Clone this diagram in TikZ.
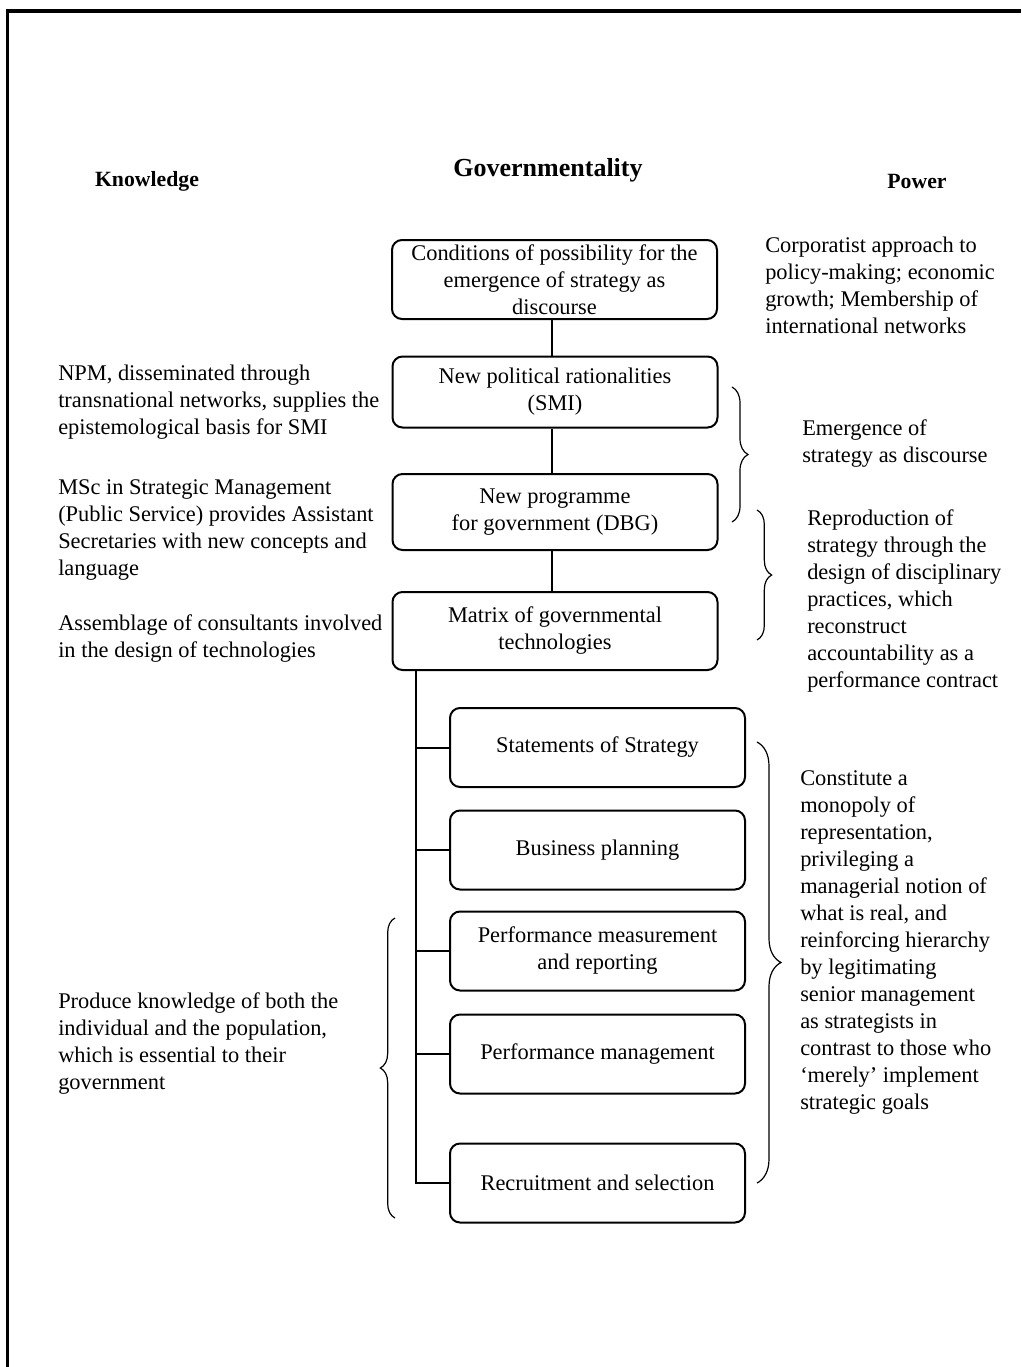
\documentclass[tikz,border=0pt]{standalone}
\usepackage{fontspec}
\setmainfont{Liberation Serif}
\usetikzlibrary{decorations.pathreplacing}
\begin{document}
\begin{tikzpicture}[x=0.75pt,y=-0.75pt,
  every node/.style={font=\fontsize{16.8}{20.25}\selectfont, inner sep=0pt},
  head/.style={font=\fontsize{16.3}{19}\selectfont\bfseries},
  mainbox/.style={draw, line width=1.5pt, rounded corners=7.5pt, align=center,
    minimum width=243.75pt},
  subbox/.style={draw, line width=1.5pt, rounded corners=7.5pt, align=center,
    minimum width=221.25pt, minimum height=59.25pt},
  note/.style={anchor=north west, align=left},
  link/.style={line width=1.5pt},
  bracket/.style={line width=0.9pt, decorate, decoration={brace, amplitude=#1}},
]
\useasboundingbox (0,0) rectangle (1021,1367);

% outer frame (top and left edges)
\draw[line width=2.6pt] (7.5,1367) -- (7.5,11) -- (1021,11);

% column headings
\node[head] (know) at (147,181) {Knowledge};
\node[font=\fontsize{19.5}{23}\selectfont\bfseries] (gov) at (548,170) {Governmentality};
\node[head] (pow) at (917,181) {Power};

% central chain
\node[mainbox, minimum height=59.25pt] (cond) at (554.5,279.5)
  {Conditions of possibility for the\\emergence of strategy as\\discourse};
\node[mainbox, minimum height=53.25pt] (rat) at (555,392)
  {New political rationalities\\(SMI)};
\node[mainbox, minimum height=57pt] (prog) at (555,512)
  {New programme\\for government (DBG)};
\node[mainbox, minimum height=58.5pt] (mat) at (555,631)
  {Matrix of governmental\\technologies};

\coordinate (vx) at (552,0);
\draw[link] (cond.south -| vx) -- (rat.north -| vx);
\draw[link] (rat.south -| vx) -- (prog.north -| vx);
\draw[link] (prog.south -| vx) -- (mat.north -| vx);

% technologies
\node[subbox] (sos) at (597.5,747.5) {Statements of Strategy};
\node[subbox] (bp) at (597.5,850) {Business planning};
\node[subbox] (pmr) at (597.5,951) {Performance measurement\\and reporting};
\node[subbox] (pm) at (597.5,1054) {Performance management};
\node[subbox] (rs) at (597.5,1183) {Recruitment and selection};

\coordinate (sp) at (416,0);
\draw[link] (mat.south -| sp) -- (sp |- rs.west) -- (rs.west);
\draw[link] (sp |- sos.west) -- (sos.west);
\draw[link] (sp |- bp.west) -- (bp.west);
\draw[link] (sp |- pmr.west) -- (pmr.west);
\draw[link] (sp |- pm.west) -- (pm.west);

% knowledge side
\node[note] (k1) at (58,365)
  {NPM, disseminated through\\transnational networks, supplies the\\epistemological basis for SMI};
\node[note] (k2) at (58,479)
  {MSc in Strategic Management\\(Public Service) provides Assistant\\Secretaries with new concepts and\\language};
\node[note] (k3) at (58,614)
  {Assemblage of consultants involved\\in the design of technologies};
\node[note] (k4) at (58,992)
  {Produce knowledge of both the\\individual and the population,\\which is essential to their\\government};

% power side
\node[note] (p1) at (765,237)
  {Corporatist approach to\\policy-making; economic\\growth; Membership of\\international networks};
\node[note] (p2) at (802,419)
  {Emergence of\\strategy as discourse};
\node[note] (p3) at (807,509)
  {Reproduction of\\strategy through the\\design of disciplinary\\practices, which\\reconstruct\\accountability as a\\performance contract};
\node[note] (p4) at (800,770)
  {Constitute a\\monopoly of\\representation,\\privileging a\\managerial notion of\\what is real, and\\reinforcing hierarchy\\by legitimating\\senior management\\as strategists in\\contrast to those who\\`merely' implement\\strategic goals};

% braces
\coordinate (b1a) at (732,387);  \coordinate (b1b) at (732,522);
\coordinate (b2a) at (757,510);  \coordinate (b2b) at (757,640);
\coordinate (b3a) at (757,742);  \coordinate (b3b) at (757,1183);
\coordinate (b4a) at (395,1218); \coordinate (b4b) at (395,918);
\draw[bracket=12pt] (b1a) -- (b1b);
\draw[bracket=11pt] (b2a) -- (b2b);
\draw[bracket=18pt] (b3a) -- (b3b);
\draw[bracket=11pt] (b4a) -- (b4b);
\end{tikzpicture}
\end{document}
